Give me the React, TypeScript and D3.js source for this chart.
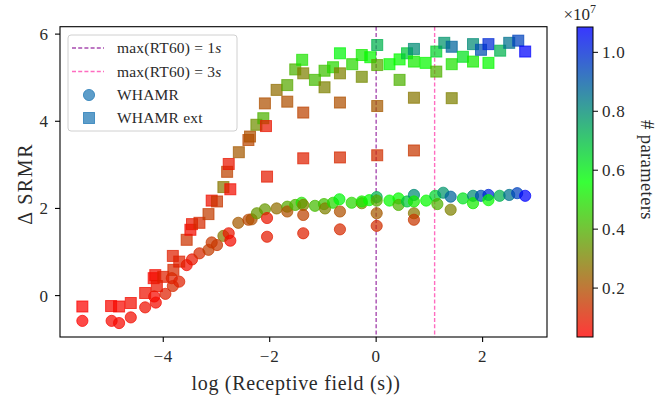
import React from "react";
import * as d3 from "d3";

const W = 660;
const H = 400;
const plot = { left: 60, right: 547, top: 26.7, bottom: 337 };
const cbar = { left: 577, right: 593, top: 27, bottom: 337 };

const xDomain = [-5.94, 3.21];
const yDomain = [-0.95, 6.17];
const cbDomain = [0.034, 1.086];

const xTicks = [-4, -2, 0, 2];
const yTicks = [0, 2, 4, 6];
const cbTicks = [0.2, 0.4, 0.6, 0.8, 1.0];

// [log receptive field, ΔSRMR, #params ×1e7]
const whamr: [number, number, number][] = [
  [-5.52, -0.58, 0.04], [-4.97, -0.58, 0.05], [-4.83, -0.63, 0.05], [-4.61, -0.5, 0.06],
  [-4.34, -0.27, 0.07], [-4.14, -0.16, 0.06], [-4.17, -0.02, 0.05], [-3.96, 0.04, 0.1],
  [-3.82, 0.22, 0.12], [-3.84, 0.4, 0.1], [-3.7, 0.32, 0.1], [-3.56, 0.7, 0.06],
  [-3.46, 0.83, 0.08], [-3.32, 0.97, 0.12], [-3.15, 1.05, 0.16], [-3.09, 1.22, 0.15],
  [-2.99, 1.16, 0.15], [-2.87, 1.37, 0.28], [-2.77, 1.43, 0.08], [-2.74, 1.26, 0.06],
  [-2.59, 1.67, 0.22], [-2.4, 1.74, 0.18], [-2.34, 1.75, 0.2], [-2.24, 1.89, 0.35],
  [-2.09, 1.98, 0.35], [-2.05, 1.78, 0.08], [-2.05, 1.35, 0.09], [-1.87, 2.0, 0.26],
  [-1.67, 2.04, 0.38], [-1.67, 1.93, 0.2], [-1.52, 2.08, 0.4], [-1.4, 2.13, 0.5],
  [-1.37, 2.08, 0.3], [-1.37, 1.85, 0.17], [-1.37, 1.43, 0.1], [-1.15, 2.06, 0.42],
  [-0.98, 2.1, 0.43], [-0.96, 2.0, 0.3], [-0.81, 2.13, 0.48], [-0.69, 2.21, 0.58],
  [-0.68, 1.93, 0.2], [-0.68, 1.52, 0.12], [-0.46, 2.13, 0.48], [-0.27, 2.12, 0.32],
  [-0.27, 2.16, 0.52], [-0.13, 2.19, 0.55], [0.01, 2.26, 0.72], [0.01, 2.18, 0.38],
  [0.01, 1.89, 0.22], [0.01, 1.6, 0.13], [0.25, 2.18, 0.55], [0.42, 2.23, 0.55],
  [0.42, 2.08, 0.4], [0.58, 2.16, 0.68], [0.71, 2.31, 0.8], [0.71, 2.16, 0.52],
  [0.71, 1.89, 0.28], [0.71, 1.74, 0.15], [0.94, 2.18, 0.55], [1.11, 2.29, 0.65],
  [1.15, 2.1, 0.4], [1.26, 2.36, 0.78], [1.4, 2.27, 0.88], [1.4, 1.97, 0.3],
  [1.63, 2.23, 0.62], [1.82, 2.29, 0.8], [1.82, 2.12, 0.52], [1.97, 2.29, 0.92],
  [2.11, 2.31, 1.0], [2.11, 2.19, 0.55], [2.32, 2.29, 0.72], [2.5, 2.31, 0.85],
  [2.65, 2.35, 0.95], [2.8, 2.29, 1.08],
];

const whamrExt: [number, number, number][] = [
  [-5.52, -0.25, 0.04], [-4.98, -0.24, 0.05], [-4.83, -0.25, 0.05], [-4.61, -0.17, 0.06],
  [-4.34, 0.06, 0.07], [-4.18, 0.4, 0.05], [-4.15, 0.47, 0.06], [-4.12, 0.22, 0.08],
  [-4.0, 0.43, 0.1], [-3.82, 0.91, 0.1], [-3.81, 0.59, 0.12], [-3.7, 0.78, 0.1],
  [-3.56, 1.28, 0.14], [-3.49, 1.51, 0.06], [-3.46, 1.64, 0.08], [-3.32, 1.67, 0.12],
  [-3.15, 1.87, 0.16], [-3.09, 2.18, 0.07], [-2.99, 2.16, 0.15], [-2.87, 2.49, 0.28],
  [-2.8, 2.84, 0.17], [-2.77, 3.02, 0.08], [-2.74, 2.44, 0.06], [-2.58, 3.29, 0.22],
  [-2.4, 3.57, 0.18], [-2.37, 3.65, 0.2], [-2.25, 3.92, 0.33], [-2.12, 4.07, 0.4],
  [-2.09, 4.41, 0.2], [-2.07, 3.89, 0.08], [-2.05, 2.73, 0.09], [-1.87, 4.72, 0.26],
  [-1.67, 4.83, 0.38], [-1.67, 4.45, 0.2], [-1.52, 5.19, 0.4], [-1.39, 5.41, 0.5],
  [-1.37, 5.1, 0.3], [-1.37, 4.2, 0.17], [-1.37, 3.15, 0.1], [-1.15, 4.95, 0.42],
  [-0.97, 4.78, 0.3], [-0.97, 5.16, 0.43], [-0.81, 5.24, 0.48], [-0.68, 5.56, 0.58],
  [-0.68, 5.1, 0.3], [-0.68, 4.43, 0.2], [-0.68, 3.17, 0.12], [-0.45, 5.31, 0.48],
  [-0.27, 5.02, 0.32], [-0.27, 5.52, 0.52], [-0.11, 5.47, 0.55], [0.02, 5.75, 0.72],
  [0.02, 5.29, 0.38], [0.02, 4.35, 0.22], [0.02, 3.22, 0.13], [0.25, 5.31, 0.55],
  [0.44, 5.42, 0.55], [0.44, 4.95, 0.4], [0.58, 5.56, 0.68], [0.71, 5.66, 0.8],
  [0.71, 5.37, 0.52], [0.71, 4.54, 0.28], [0.71, 3.33, 0.15], [0.93, 5.34, 0.55],
  [1.13, 5.6, 0.65], [1.13, 5.14, 0.4], [1.28, 5.8, 0.78], [1.42, 5.71, 0.88],
  [1.42, 5.31, 0.5], [1.42, 4.53, 0.3], [1.63, 5.48, 0.62], [1.82, 5.77, 0.8],
  [1.82, 5.37, 0.52], [1.97, 5.64, 0.92], [2.11, 5.77, 1.0], [2.11, 5.34, 0.55],
  [2.33, 5.62, 0.72], [2.5, 5.8, 0.85], [2.67, 5.85, 0.95], [2.8, 5.6, 1.08],
];

const rt60Values = [1, 3];
const rt60Colors = ["#a84cb0", "#ff6cc0"];

const FONT = "'Liberation Serif', 'DejaVu Serif', serif";
const ALPHA = 0.72;
const LEGEND_BLUE = "#1f77b4";
const TXT = "#2a2a2a";

export default function App() {
  const x = d3.scaleLinear().domain(xDomain).range([plot.left, plot.right]);
  const y = d3.scaleLinear().domain(yDomain).range([plot.bottom, plot.top]);
  const cbY = d3.scaleLinear().domain(cbDomain).range([cbar.bottom, cbar.top]);
  const mid = (cbDomain[0] + cbDomain[1]) / 2;
  const color = d3
    .scaleLinear<string>()
    .domain([cbDomain[0], mid, cbDomain[1]])
    .range(["#ff0000", "#00ff00", "#0000ff"])
    .interpolate(d3.interpolateRgb)
    .clamp(true);

  const stops = d3.range(0, 21).map((i) => {
    const v = cbDomain[0] + ((cbDomain[1] - cbDomain[0]) * i) / 20;
    return { off: (i / 20) * 100, c: color(v) };
  });

  const sq = 11;
  const r = 5.6;

  return (
    <svg
      width={W}
      height={H}
      style={{ position: "absolute", left: 0, top: 0, background: "#fff" }}
      fontFamily={FONT}
    >
      <defs>
        <linearGradient id="cb" x1="0" y1="1" x2="0" y2="0">
          {stops.map((s, i) => (
            <stop key={i} offset={`${s.off}%`} stopColor={s.c} />
          ))}
        </linearGradient>
        <clipPath id="plotclip">
          <rect x={plot.left} y={plot.top} width={plot.right - plot.left} height={plot.bottom - plot.top} />
        </clipPath>
      </defs>

      <g clipPath="url(#plotclip)">
        {rt60Values.map((v, i) => (
          <line
            key={i}
            x1={x(Math.log(v))}
            x2={x(Math.log(v))}
            y1={plot.top}
            y2={plot.bottom}
            stroke={rt60Colors[i]}
            strokeWidth={1.4}
            strokeDasharray="4,2.2"
          />
        ))}
        {whamr.map((d, i) => (
          <circle
            key={"c" + i}
            cx={x(d[0])}
            cy={y(d[1])}
            r={r}
            fill={color(d[2])}
            fillOpacity={ALPHA}
            stroke={color(d[2])}
            strokeOpacity={ALPHA}
            strokeWidth={1}
          />
        ))}
        {whamrExt.map((d, i) => (
          <rect
            key={"s" + i}
            x={x(d[0]) - sq / 2}
            y={y(d[1]) - sq / 2}
            width={sq}
            height={sq}
            fill={color(d[2])}
            fillOpacity={ALPHA}
            stroke={color(d[2])}
            strokeOpacity={ALPHA}
            strokeWidth={1}
          />
        ))}
      </g>

      <rect
        x={plot.left}
        y={plot.top}
        width={plot.right - plot.left}
        height={plot.bottom - plot.top}
        fill="none"
        stroke="#000"
        strokeWidth={1.1}
      />

      {xTicks.map((t) => (
        <g key={"xt" + t}>
          <line x1={x(t)} x2={x(t)} y1={plot.bottom} y2={plot.bottom + 5} stroke="#000" strokeWidth={1.1} />
          <text x={x(t)} y={362} textAnchor="middle" fontSize={17} letterSpacing={0.8} fill={TXT}>
            {t < 0 ? "\u2212" + Math.abs(t) : String(t)}
          </text>
        </g>
      ))}
      {yTicks.map((t) => (
        <g key={"yt" + t}>
          <line x1={plot.left - 5} x2={plot.left} y1={y(t)} y2={y(t)} stroke="#000" strokeWidth={1.1} />
          <text x={48} y={y(t) + 6} textAnchor="end" fontSize={17} fill={TXT}>
            {String(t)}
          </text>
        </g>
      ))}

      <text x={296} y={390} textAnchor="middle" fontSize={20} letterSpacing={0.7} fill={TXT}>
        log (Receptive field (s))
      </text>
      <text
        transform={`translate(32,${(plot.top + plot.bottom) / 2 + 2}) rotate(-90)`}
        textAnchor="middle"
        fontSize={20}
        letterSpacing={1.6}
        fill={TXT}
      >
        {"\u0394 SRMR"}
      </text>

      <g>
        <rect x={68} y={35} width={169} height={96} rx={3} fill="#fff" fillOpacity={0.8} stroke="#d0d0d0" strokeWidth={1} />
        {rt60Values.map((v, i) => {
          const yy = 48 + i * 23.5;
          return (
            <g key={"lg" + i}>
              <line x1={72} x2={104} y1={yy} y2={yy} stroke={rt60Colors[i]} strokeWidth={1.4} strokeDasharray="4,2.2" />
              <text x={117} y={yy + 5} fontSize={15.5} letterSpacing={0.2} fill={TXT}>
                max(RT60) = {v}
                <tspan fontStyle="italic">s</tspan>
              </text>
            </g>
          );
        })}
        <circle cx={89} cy={95} r={r} fill={LEGEND_BLUE} fillOpacity={ALPHA} stroke={LEGEND_BLUE} strokeOpacity={ALPHA} />
        <text x={117} y={100} fontSize={15.5} letterSpacing={0.2} fill={TXT}>WHAMR</text>
        <rect x={89 - sq / 2} y={118 - sq / 2} width={sq} height={sq} fill={LEGEND_BLUE} fillOpacity={ALPHA} stroke={LEGEND_BLUE} strokeOpacity={ALPHA} />
        <text x={117} y={123} fontSize={15.5} letterSpacing={0.2} fill={TXT}>WHAMR ext</text>
      </g>

      <rect
        x={cbar.left}
        y={cbar.top}
        width={cbar.right - cbar.left}
        height={cbar.bottom - cbar.top}
        fill="url(#cb)"
        fillOpacity={ALPHA + 0.06}
      />
      <rect
        x={cbar.left}
        y={cbar.top}
        width={cbar.right - cbar.left}
        height={cbar.bottom - cbar.top}
        fill="none"
        stroke="#000"
        strokeWidth={1}
      />
      {cbTicks.map((t) => (
        <g key={"cb" + t}>
          <line x1={cbar.right} x2={cbar.right + 5} y1={cbY(t)} y2={cbY(t)} stroke="#000" strokeWidth={1} />
          <text x={602} y={cbY(t) + 6} fontSize={17} letterSpacing={0.8} fill={TXT}>
            {t.toFixed(1)}
          </text>
        </g>
      ))}
      <text x={596} y={20} textAnchor="end" fontSize={17} fill={TXT}>
        {"\u00d710"}
        <tspan dy={-7} fontSize={12}>7</tspan>
      </text>
      <text
        transform={`translate(641,${(cbar.top + cbar.bottom) / 2 - 12}) rotate(90)`}
        textAnchor="middle"
        fontSize={18.5}
        letterSpacing={0.4}
        fill={TXT}
      >
        # parameters
      </text>
    </svg>
  );
}
